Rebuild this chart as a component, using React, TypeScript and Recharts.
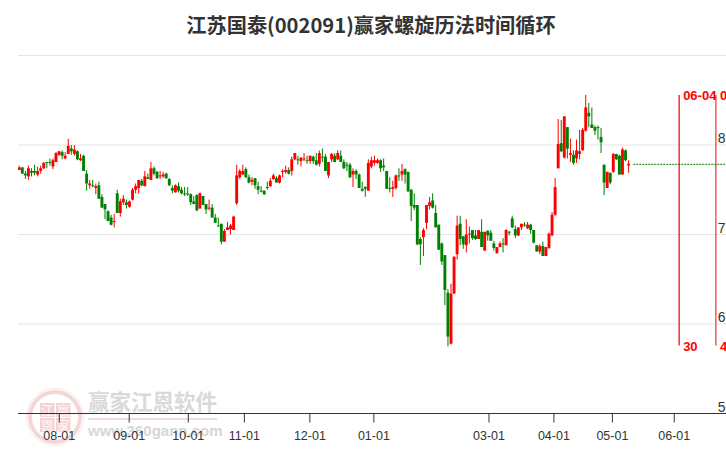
import React from 'react';
import { ComposedChart, Bar, XAxis, YAxis, CartesianGrid, ReferenceLine, ReferenceDot } from 'recharts';

const opens = [7.72,7.75,7.68,7.65,7.71,7.71,7.67,7.71,7.74,7.81,7.81,7.76,7.81,7.89,7.92,7.85,7.90,7.96,7.90,7.93,
7.83,7.88,7.68,7.55,7.55,7.52,7.55,7.42,7.34,7.26,7.19,7.14,7.46,7.24,7.36,7.36,7.31,7.39,7.50,7.52,
7.60,7.54,7.64,7.61,7.74,7.70,7.65,7.65,7.68,7.62,7.52,7.47,7.54,7.50,7.46,7.46,7.45,7.37,7.44,7.29,
7.43,7.34,7.29,7.30,7.19,7.10,7.12,6.92,7.05,7.06,7.05,7.35,7.64,7.67,7.73,7.64,7.59,7.63,7.54,7.49,
7.49,7.53,7.54,7.62,7.63,7.58,7.70,7.70,7.72,7.71,7.84,7.84,7.82,7.84,7.83,7.82,7.87,7.83,7.79,7.87,
7.87,7.66,7.84,7.88,7.84,7.88,7.81,7.78,7.78,7.67,7.71,7.67,7.51,7.53,7.49,7.76,7.80,7.80,7.83,7.77,
7.71,7.52,7.51,7.52,7.66,7.67,7.73,7.70,7.50,7.33,7.33,6.95,6.97,7.13,7.32,7.38,7.24,7.11,6.90,6.77,
6.35,5.78,6.34,6.78,7.12,6.98,6.88,7.00,7.05,6.99,6.95,7.03,6.82,7.04,7.02,6.90,6.79,6.86,6.90,6.88,
7.03,7.18,7.06,6.99,7.08,7.11,7.07,7.11,7.05,6.88,6.81,6.87,6.76,6.85,6.99,7.22,7.74,8.02,7.86,8.20,
7.89,7.89,7.85,7.90,7.94,8.16,8.36,8.23,8.20,8.20,8.09,7.78,7.52,7.69,7.70,7.90,7.88,7.67,7.94,7.77];
const closes = [7.75,7.68,7.66,7.74,7.69,7.69,7.71,7.74,7.80,7.80,7.80,7.83,7.91,7.93,7.88,7.88,7.99,7.93,7.95,7.84,
7.85,7.71,7.57,7.57,7.54,7.54,7.40,7.30,7.28,7.15,7.11,7.15,7.24,7.37,7.40,7.33,7.37,7.50,7.54,7.61,
7.55,7.65,7.62,7.74,7.68,7.63,7.66,7.67,7.63,7.55,7.49,7.55,7.49,7.46,7.45,7.45,7.36,7.34,7.27,7.46,
7.33,7.28,7.30,7.19,7.13,7.09,6.92,7.04,7.08,7.10,7.20,7.66,7.71,7.71,7.64,7.58,7.61,7.55,7.50,7.48,
7.45,7.52,7.60,7.66,7.58,7.66,7.71,7.72,7.68,7.84,7.91,7.83,7.86,7.85,7.82,7.88,7.82,7.78,7.91,7.87,
7.71,7.81,7.90,7.81,7.91,7.81,7.74,7.77,7.64,7.71,7.67,7.52,7.49,7.51,7.80,7.83,7.83,7.83,7.74,7.75,
7.51,7.51,7.53,7.66,7.65,7.71,7.67,7.48,7.32,7.30,6.89,6.89,7.05,7.33,7.36,7.30,7.08,6.83,6.70,6.38,
5.86,6.34,6.75,7.10,6.95,6.89,7.00,7.01,6.96,6.95,7.05,6.86,7.03,6.99,6.93,6.85,6.86,6.90,6.89,7.05,
7.02,7.08,6.99,7.08,7.12,7.10,7.11,7.05,6.91,6.81,6.87,6.76,6.86,7.01,7.22,7.53,8.01,7.93,8.32,7.96,
7.91,7.80,7.94,7.93,8.17,8.42,8.32,8.19,8.16,8.20,8.03,7.58,7.70,7.58,7.90,7.84,7.67,7.95,7.83,7.79];
const highs = [7.77,7.75,7.71,7.77,7.74,7.78,7.76,7.77,7.81,7.81,7.85,7.85,7.92,7.93,7.94,7.92,8.07,8.00,8.00,7.94,
7.90,7.89,7.72,7.61,7.61,7.57,7.59,7.45,7.34,7.27,7.22,7.23,7.50,7.40,7.44,7.39,7.38,7.52,7.57,7.61,
7.62,7.71,7.68,7.81,7.76,7.71,7.71,7.70,7.69,7.63,7.55,7.56,7.58,7.53,7.53,7.53,7.46,7.43,7.45,7.47,
7.43,7.34,7.39,7.34,7.23,7.19,7.12,7.06,7.14,7.12,7.21,7.78,7.73,7.78,7.75,7.67,7.64,7.63,7.59,7.54,
7.49,7.59,7.63,7.68,7.65,7.67,7.73,7.77,7.75,7.87,7.91,7.88,7.86,7.91,7.88,7.88,7.88,7.91,7.94,7.96,
7.90,7.81,7.91,7.91,7.94,7.94,7.84,7.81,7.80,7.74,7.73,7.68,7.59,7.54,7.84,7.87,7.88,7.85,7.84,7.85,
7.71,7.64,7.60,7.67,7.74,7.79,7.74,7.70,7.51,7.46,7.33,6.97,7.07,7.33,7.42,7.46,7.33,7.11,6.91,6.77,
6.39,6.45,6.76,7.21,7.21,6.98,7.17,7.09,7.05,7.05,7.05,7.17,7.03,7.05,7.05,6.93,6.86,6.92,6.96,7.06,
7.04,7.21,7.10,7.08,7.12,7.14,7.14,7.12,7.05,6.88,6.89,6.92,6.86,7.02,7.25,7.63,8.29,8.28,8.32,8.20,
8.07,7.94,8.06,8.17,8.19,8.56,8.47,8.42,8.22,8.22,8.19,7.78,7.70,7.69,7.91,7.90,7.89,7.97,7.95,7.83];
const lows = [7.72,7.68,7.62,7.61,7.65,7.66,7.65,7.68,7.73,7.74,7.77,7.73,7.81,7.88,7.84,7.84,7.90,7.89,7.88,7.83,
7.82,7.71,7.49,7.51,7.53,7.45,7.40,7.30,7.17,7.15,7.10,7.08,7.24,7.20,7.33,7.29,7.30,7.38,7.46,7.46,
7.54,7.54,7.62,7.61,7.66,7.62,7.62,7.63,7.62,7.54,7.46,7.47,7.47,7.45,7.43,7.43,7.33,7.34,7.26,7.29,
7.33,7.23,7.27,7.19,7.13,7.09,6.89,6.92,7.05,7.00,7.05,7.33,7.62,7.67,7.63,7.57,7.55,7.51,7.45,7.47,
7.44,7.50,7.53,7.61,7.58,7.57,7.64,7.68,7.67,7.66,7.83,7.78,7.76,7.82,7.79,7.79,7.79,7.77,7.76,7.81,
7.71,7.63,7.81,7.81,7.83,7.81,7.73,7.71,7.63,7.53,7.62,7.52,7.48,7.42,7.49,7.74,7.77,7.79,7.70,7.71,
7.51,7.47,7.42,7.50,7.60,7.60,7.57,7.48,7.15,7.27,6.88,6.66,6.76,7.06,7.28,7.29,7.08,6.83,6.66,6.21,
5.75,5.77,6.34,6.72,6.88,6.84,6.80,6.90,6.94,6.94,6.95,6.86,6.82,6.93,6.93,6.82,6.79,6.86,6.80,6.88,
6.99,7.07,6.96,6.98,7.05,7.09,7.06,7.01,6.90,6.81,6.78,6.76,6.76,6.84,6.98,7.21,7.74,7.92,7.85,7.85,
7.81,7.78,7.80,7.84,7.94,8.15,8.20,8.19,8.11,8.06,7.91,7.44,7.52,7.56,7.69,7.83,7.67,7.67,7.82,7.69];

const tickPositions = [13.06, 35.9, 55.2, 73.5, 94.9, 115.8, 153.4, 174.6, 193.7, 213.9];
const tickLabels = ['08-01','09-01','10-01','11-01','12-01','01-01','03-01','04-01','05-01','06-01'];
const priceTicks = [5, 6, 7, 8];
const cycleLines = [
  { at: 215.5, top: '06-04', bottom: '30', color: '#e60000' },
  { at: 227.5, top: '0', bottom: '4', color: '#f03030' },
];
const lastClose = 7.784;
const lastLineFrom = 200.5;
const xMin = -0.42;
const xMax = 230.8;

const rows = opens.map((o, i) => ({ i, open: o, close: closes[i], high: highs[i], low: lows[i], range: [lows[i], highs[i]] }));

const UP = '#ff0000';
const DOWN = '#008000';

function Candle(props: any) {
  const { x, y, width, height, payload } = props;
  const { open, close, high, low } = payload;
  const color = close > open ? UP : DOWN;
  const cx = x + width / 2;
  const perUnit = height / (high - low);
  const top = y + (high - Math.max(open, close)) * perUnit;
  const h = Math.max(1, Math.abs(close - open) * perUnit);
  return (
    <g>
      <rect x={cx - 0.5} y={y} width={1} height={height} fill={color} />
      <rect x={cx - 1.45} y={top} width={2.9} height={h} fill={color} />
    </g>
  );
}

function PriceTick(props: any) {
  const { y, payload } = props;
  return (
    <text x={725.5} y={y - 2} textAnchor="end" fontSize={14} fontFamily="Liberation Sans, Arial, sans-serif" fill="#333">
      {payload.value}
    </text>
  );
}

const logoCells = [
  { ch: '江', x: 40, y: 403 },
  { ch: '赢', x: 56, y: 403 },
  { ch: '恩', x: 40, y: 418 },
  { ch: '家', x: 56, y: 418 },
];

function Watermark() {
  return (
    <svg width={726} height={450} style={{ position: 'absolute', left: 0, top: 0 }}>
      <circle cx={55} cy={417} r={25} fill="none" stroke="#f3d6d6" strokeWidth={4} />
      <circle cx={55} cy={417} r={28.5} fill="none" stroke="#f8e6e6" strokeWidth={1} />
      {logoCells.map((c) => (
        <g key={c.ch}>
          <rect x={c.x} y={c.y} width={14.5} height={14} fill="#f2d2d2" />
          <text x={c.x + 7.25} y={c.y + 12} fontSize={13} textAnchor="middle" fill="#fdf3f3" fontFamily="Noto Sans CJK SC" fontWeight={500}>{c.ch}</text>
        </g>
      ))}
      <text x={88} y={410} fontSize={21.5} fill="#dbd8d8" fontFamily="Noto Sans CJK SC" fontWeight={700}>赢家江恩软件</text>
      <rect x={88} y={418} width={129} height={2} fill="#eedddd" />
      <text x={88} y={436} fontSize={15} fill="#d6d6d6" fontFamily="Liberation Sans, Arial, sans-serif" fontWeight={700}>www.360gann.com</text>
    </svg>
  );
}

export default function App() {
  return (
    <div style={{ position: 'absolute', left: 0, top: 0, width: 726, height: 450, overflow: 'hidden', background: '#fff' }}>
      <Watermark />
      <div style={{ position: 'absolute', left: 0, top: 11, width: 742, textAlign: 'center', fontFamily: 'Noto Sans CJK SC', fontWeight: 700, fontSize: 20.2, lineHeight: '28px', color: '#333' }}>
        江苏国泰(002091)赢家螺旋历法时间循环
      </div>
      <ComposedChart
        width={726}
        height={450}
        data={rows}
        margin={{ top: 55.5, right: 0, bottom: 0, left: 18 }}
        style={{ position: 'absolute', left: 0, top: 0 }}
      >
        <CartesianGrid horizontal vertical={false} stroke="#e6e6e6" strokeWidth={1} />
        <XAxis
          dataKey="i"
          type="number"
          domain={[xMin, xMax]}
          allowDataOverflow
          ticks={tickPositions}
          tickFormatter={(v: number) => tickLabels[tickPositions.indexOf(v)]}
          interval={0}
          height={36.5}
          tickSize={9}
          tickMargin={9}
          stroke="#333"
          tick={{ fontSize: 12.5, fontFamily: 'Liberation Sans, Arial, sans-serif', fill: '#333' }}
        />
        <YAxis
          type="number"
          orientation="right"
          mirror
          domain={[5, 9]}
          ticks={priceTicks}
          width={30}
          axisLine={false}
          tickLine={false}
          tick={PriceTick}
        />
        <Bar dataKey="range" barSize={3} shape={<Candle />} isAnimationActive={false} />
        <ReferenceLine
          segment={[{ x: lastLineFrom, y: lastClose }, { x: xMax, y: lastClose }]}
          stroke="#008000"
          strokeDasharray="2 1"
          strokeWidth={1}
        />
        {cycleLines.map((c) => (
          <ReferenceLine key={c.at} segment={[{ x: c.at, y: 5.76 }, { x: c.at, y: 8.56 }]} stroke={c.color} strokeWidth={1.2} />
        ))}
        {cycleLines.map((c) => (
          <ReferenceDot key={'t' + c.at} x={c.at} y={8.56} r={0} fill="none" stroke="none"
            label={{ value: c.top, position: 'right', offset: 4, dy: 1, fill: '#ff0000', fontSize: 13, fontWeight: 700, fontFamily: 'Liberation Sans, Arial, sans-serif' }} />
        ))}
        {cycleLines.map((c) => (
          <ReferenceDot key={'b' + c.at} x={c.at} y={5.76} r={0} fill="none" stroke="none"
            label={{ value: c.bottom, position: 'right', offset: 4, dy: 1, fill: '#ff0000', fontSize: 13, fontWeight: 700, fontFamily: 'Liberation Sans, Arial, sans-serif' }} />
        ))}
      </ComposedChart>
    </div>
  );
}
